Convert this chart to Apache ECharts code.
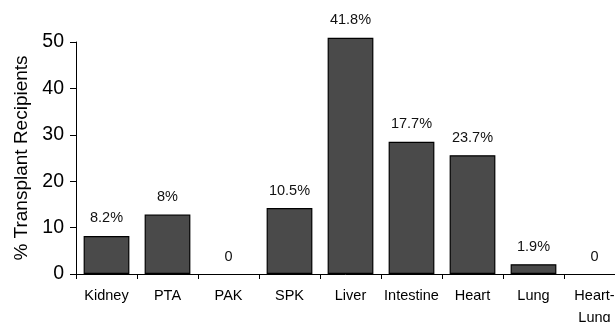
<!DOCTYPE html>
<html>
<head>
<meta charset="utf-8">
<script src="https://cdn.jsdelivr.net/npm/echarts@6/dist/echarts.min.js"></script>
<style>
  html, body { margin: 0; padding: 0; background: #fff; }
  #chart { width: 615px; height: 322px; }
</style>
</head>
<body>
<div id="chart"></div>
<script>
// Organ categories along the x axis
const categories = ['Kidney', 'PTA', 'PAK', 'SPK', 'Liver', 'Intestine', 'Heart', 'Lung', 'Heart-\nLung'];
// Bar heights (% of transplant recipients)
const recipients = [8.2, 12.8, 0, 14.2, 50.9, 28.5, 25.6, 2.1, 0];
// Annotations printed above each bar
const barLabels = ['8.2%', '8%', '0', '10.5%', '41.8%', '17.7%', '23.7%', '1.9%', '0'];
// Value axis ticks
const yTicks = [0, 10, 20, 30, 40, 50];

const chart = echarts.init(document.getElementById('chart'), null, { renderer: 'canvas' });
const font = 'Liberation Sans, Arial, sans-serif';

// Empty categories keep their label but draw no rectangle
const barData = recipients.map(v => ({
  value: v,
  itemStyle: v === 0 ? { color: 'rgba(0,0,0,0)', borderColor: 'rgba(0,0,0,0)', borderWidth: 0 } : {}
}));

chart.setOption({
  animation: false,
  backgroundColor: '#ffffff',
  grid: {
    left: 76, top: 42, width: 549, height: 232,
    containLabel: false,
    outerBoundsMode: 'none'
  },
  xAxis: {
    type: 'category',
    data: categories,
    axisLine: { lineStyle: { color: '#000', width: 1 } },
    axisTick: { show: true, length: 5, alignWithLabel: false, lineStyle: { color: '#000' } },
    axisLabel: { color: '#000', fontFamily: font, fontSize: 14.5, margin: 11, lineHeight: 22, interval: 0 },
    splitLine: { show: false }
  },
  yAxis: {
    type: 'value',
    min: yTicks[0],
    max: yTicks[yTicks.length - 1],
    interval: 10,
    name: '% Transplant Recipients',
    nameLocation: 'middle',
    nameGap: 44,
    nameTextStyle: { color: '#000', fontFamily: font, fontSize: 19 },
    axisLine: { show: true, lineStyle: { color: '#000', width: 1 } },
    axisTick: { show: true, length: 6, lineStyle: { color: '#000' } },
    axisLabel: { color: '#000', fontFamily: font, fontSize: 19.5, margin: 12 },
    splitLine: { show: false }
  },
  series: [{
    type: 'bar',
    data: barData,
    clip: false,
    barCategoryGap: '25%',
    itemStyle: { color: '#4a4a4a', borderColor: '#000', borderWidth: 1.2 },
    label: {
      show: true,
      position: 'top',
      distance: 10,
      color: '#111',
      fontFamily: font,
      fontSize: 14.5,
      formatter: p => barLabels[p.dataIndex]
    }
  }]
});
</script>
</body>
</html>
